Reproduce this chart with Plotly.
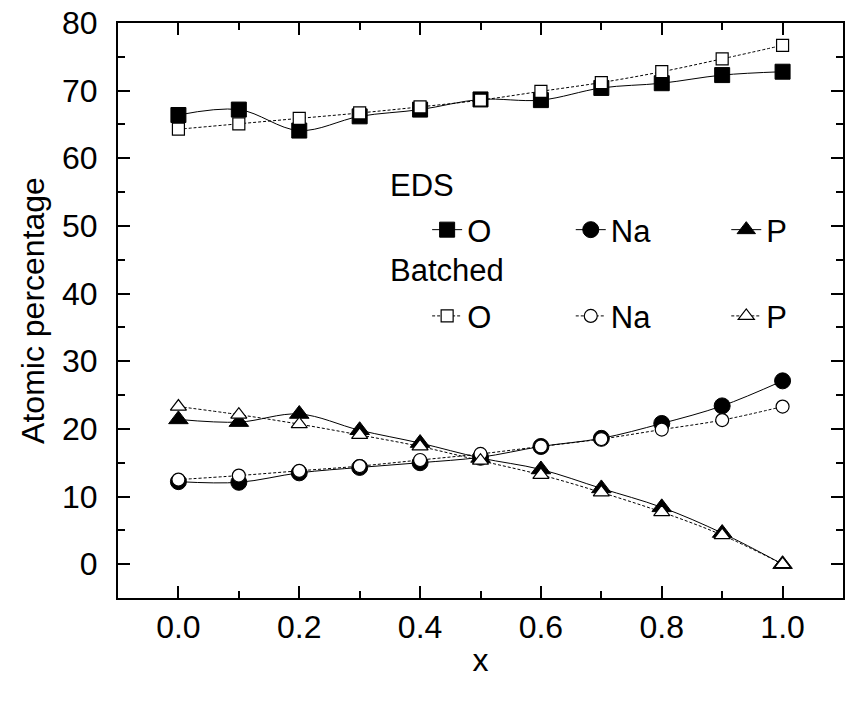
import plotly.graph_objects as go

# Composition parameter x
x_frac = [0.0, 0.1, 0.2, 0.3, 0.4, 0.5, 0.6, 0.7, 0.8, 0.9, 1.0]

# EDS measured atomic percentages
eds_o = [66.4, 67.2, 64.1, 66.2, 67.2, 68.7, 68.6, 70.4, 71.1, 72.3, 72.8]
eds_na = [12.2, 12.1, 13.5, 14.3, 15.0, 15.8, 17.4, 18.6, 20.8, 23.4, 27.1]
eds_p = [21.4, 21.0, 22.2, 19.8, 17.9, 15.7, 14.0, 11.2, 8.4, 4.6, 0.0]

# Batched (nominal) atomic percentages
bat_o = [64.3, 65.1, 65.9, 66.7, 67.6, 68.6, 69.9, 71.2, 72.8, 74.7, 76.7]
bat_na = [12.5, 13.1, 13.8, 14.5, 15.4, 16.3, 17.4, 18.5, 19.9, 21.3, 23.3]
bat_p = [23.3, 22.1, 20.7, 19.1, 17.4, 15.3, 13.2, 10.6, 7.7, 4.3, 0.0]

x_ticks = [0.0, 0.2, 0.4, 0.6, 0.8, 1.0]
x_tick_text = ["0.0", "0.2", "0.4", "0.6", "0.8", "1.0"]
y_ticks = [0, 10, 20, 30, 40, 50, 60, 70, 80]

FONT = "Liberation Sans, Arial, sans-serif"
TICK_SIZE = 32
LABEL_SIZE = 32
LEGEND_SIZE = 31

fig = go.Figure()

# one legend box per key so the two key rows line up in three columns
eds_series = [("O", eds_o, "square", 15, "legend"),
              ("Na", eds_na, "circle", 16, "legend2"),
              ("P", eds_p, "triangle-up", 17, "legend3")]
bat_series = [("O", bat_o, "square", 12, "legend4"),
              ("Na", bat_na, "circle", 13, "legend5"),
              ("P", bat_p, "triangle-up", 14, "legend6")]

for name, vals, sym, size, leg in eds_series:
    fig.add_trace(go.Scatter(
        x=x_frac, y=vals, name=name, legend=leg,
        mode="lines+markers",
        line=dict(color="black", width=1, shape="spline", smoothing=1),
        marker=dict(symbol=sym, size=size, color="black", line=dict(color="black", width=1)),
    ))

for name, vals, sym, size, leg in bat_series:
    fig.add_trace(go.Scatter(
        x=x_frac, y=vals, name=name, legend=leg,
        mode="lines+markers",
        line=dict(color="black", width=1, dash="3px,2px", shape="spline", smoothing=1),
        marker=dict(symbol=sym, size=size, color="white", line=dict(color="black", width=1.2)),
    ))

axis_common = dict(
    showline=True, linecolor="black", linewidth=2, mirror="ticks",
    ticks="inside", ticklen=12, tickwidth=2, tickcolor="black",
    showgrid=False, zeroline=False,
    tickfont=dict(family=FONT, size=TICK_SIZE, color="black"),
)

fig.update_xaxes(
    range=[-0.1, 1.1], tickvals=x_ticks, ticktext=x_tick_text,
    minor=dict(dtick=0.1, tick0=0, ticks="inside", ticklen=7, tickwidth=2, tickcolor="black"),
    ticklabelstandoff=0,
    title=dict(text="x", font=dict(family=FONT, size=LABEL_SIZE, color="black"), standoff=4),
    **axis_common,
)
fig.update_yaxes(
    range=[-5, 80], tickvals=y_ticks,
    minor=dict(dtick=5, tick0=0, ticks="inside", ticklen=7, tickwidth=2, tickcolor="black"),
    ticklabelstandoff=12,
    title=dict(text="Atomic percentage", font=dict(family=FONT, size=LABEL_SIZE, color="black"), standoff=8),
    **axis_common,
)

legend_common = dict(
    orientation="h", xanchor="left", yanchor="middle",
    font=dict(family=FONT, size=LEGEND_SIZE, color="black"),
    bgcolor="rgba(0,0,0,0)", borderwidth=0,
    itemwidth=30,
)
col_x = [0.4264, 0.6245, 0.839]
row_y = [0.640, 0.490]

fig.update_layout(
    width=847, height=710,
    margin=dict(l=118, r=2, t=23, b=112),
    paper_bgcolor="white", plot_bgcolor="white",
    font=dict(family=FONT, color="black"),
    showlegend=True,
    legend=dict(x=col_x[0], y=row_y[0], **legend_common),
    legend2=dict(x=col_x[1], y=row_y[0], **legend_common),
    legend3=dict(x=col_x[2], y=row_y[0], **legend_common),
    legend4=dict(x=col_x[0], y=row_y[1], **legend_common),
    legend5=dict(x=col_x[1], y=row_y[1], **legend_common),
    legend6=dict(x=col_x[2], y=row_y[1], **legend_common),
    annotations=[
        dict(text="EDS", xref="paper", yref="paper", x=0.373, y=0.717,
             xanchor="left", yanchor="middle", showarrow=False,
             font=dict(family=FONT, size=LEGEND_SIZE, color="black")),
        dict(text="Batched", xref="paper", yref="paper", x=0.373, y=0.570,
             xanchor="left", yanchor="middle", showarrow=False,
             font=dict(family=FONT, size=LEGEND_SIZE, color="black")),
    ],
)

fig.write_html("out.html")
